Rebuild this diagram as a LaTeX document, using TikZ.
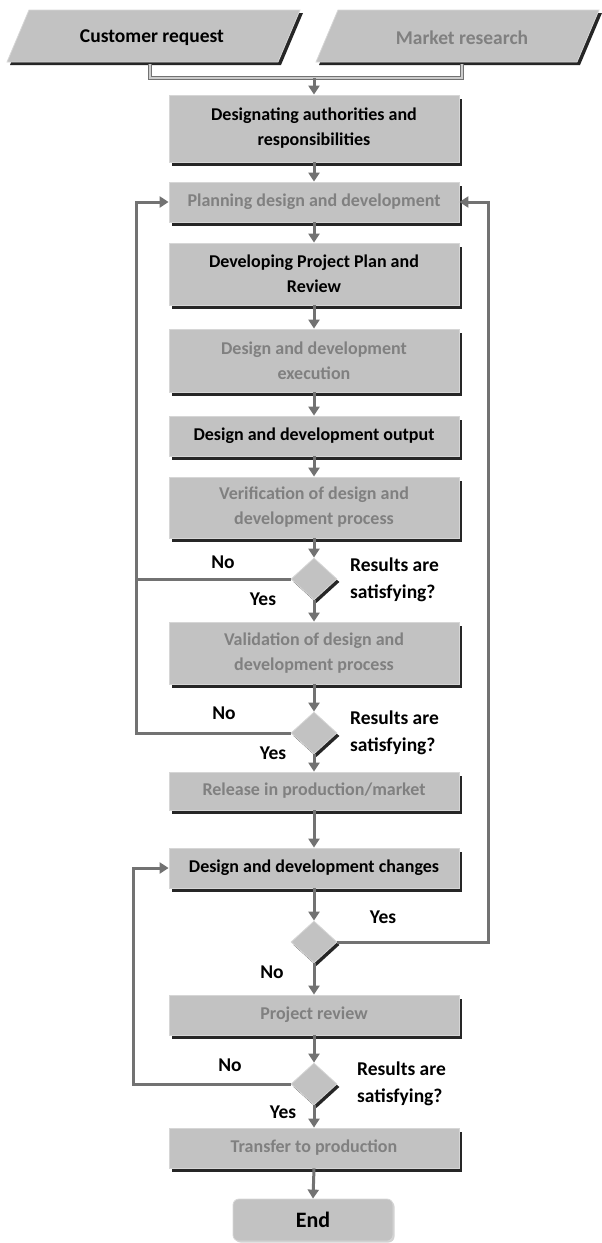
\documentclass[tikz,border=0pt]{standalone}
\usepackage{fontspec}
\setmainfont{Carlito}
\usetikzlibrary{arrows.meta,shapes.geometric,shadows}
\definecolor{boxfill}{HTML}{C2C2C2}
\definecolor{boxline}{HTML}{D6D6D6}
\definecolor{shade}{HTML}{262626}
\definecolor{connc}{HTML}{727272}
\definecolor{blurtxt}{HTML}{808080}
\begin{document}
\begin{tikzpicture}[x=1pt,y=-1pt,
  base/.style={font=\bfseries\fontsize{18}{25}\selectfont},
  big/.style={font=\bfseries\fontsize{19.5}{27}\selectfont},
  proc/.style={base, draw=boxline, line width=0.8pt, fill=boxfill, minimum width=290pt, inner sep=0pt, align=center,
    drop shadow={shadow xshift=3pt, shadow yshift=-4pt, opacity=1, fill=shade}},
  blur/.style={text=blurtxt},
  dec/.style={diamond, draw=boxline, line width=0.8pt, fill=boxfill, minimum width=46pt, minimum height=42pt, inner sep=0pt,
    drop shadow={shadow xshift=2.5pt, shadow yshift=-3pt, opacity=1, fill=shade}},
  parashadow/.style={fill=shade, shift={(3,3)}},
  parabody/.style={draw=boxline, line width=0.8pt, fill=boxfill},
  endbox/.style={font=\bfseries\fontsize{22}{26}\selectfont, rounded corners=6pt, draw=boxline, line width=0.8pt, fill=boxfill,
    minimum width=160pt, minimum height=42pt, inner sep=0pt,
    drop shadow={shadow xshift=1.5pt, shadow yshift=-1.5pt, opacity=0.35, fill=black!50}},
  conn/.style={draw=connc, line width=3pt},
  arr/.style={conn, -{Triangle[width=11pt,length=9pt]}},
  lbl/.style={big, inner sep=0pt},
  qlbl/.style={big, inner sep=0pt, align=left, anchor=west},
]
\useasboundingbox (0,0) rectangle (602,1243);

% input parallelograms
\fill[parashadow] (7,62) -- (278,62) -- (300,10) -- (29,10) -- cycle;
\path[parabody] (7,62) -- (278,62) -- (300,10) -- (29,10) -- cycle;
\fill[parashadow] (316,62) -- (577,62) -- (599,10) -- (338,10) -- cycle;
\path[parabody] (316,62) -- (577,62) -- (599,10) -- (338,10) -- cycle;
\node[big, inner sep=0pt] (cust) at (152,38) {Customer request};
\node[big, inner sep=0pt, blur] (mkt) at (462,38) {Market research};
\coordinate (custb) at (150,64);
\coordinate (mktb) at (462,64);

% process boxes
\node[proc, minimum height=67pt] (b1) at (314,128.5) {Designating authorities and\\responsibilities};
\node[proc, minimum height=40pt, blur] (b2) at (314,202) {Planning design and development};
\node[proc, minimum height=62pt] (b3) at (314,274) {Developing Project Plan and\\Review};
\node[proc, minimum height=63pt, blur] (b4) at (314,360.5) {Design and development\\execution};
\node[proc, minimum height=40pt] (b5) at (314,436) {Design and development output};
\node[proc, minimum height=61pt, blur] (b6) at (314,507.5) {Verification of design and\\development process};
\node[dec] (d1) at (314,579) {};
\node[proc, minimum height=62pt, blur] (b7) at (314,653) {Validation of design and\\development process};
\node[dec] (d2) at (314,733) {};
\node[proc, minimum height=38pt, blur] (b8) at (314,791) {Release in production/market};
\node[proc, minimum height=40pt] (b9) at (314,868) {Design and development changes};
\node[dec] (d3) at (314,942) {};
\node[proc, minimum height=40pt, blur] (b10) at (314,1015) {Project review};
\node[dec] (d4) at (314,1084) {};
\node[proc, minimum height=40pt, blur] (b11) at (314,1148) {Transfer to production};
\node[endbox] (e) at (313,1220) {End};

% top merge connector
\coordinate (j) at (314,78);
\draw[draw=connc, line width=1pt, double=black!20, double distance=2pt]
  (custb) -- (custb |- j) -- (mktb |- j) -- (mktb);
\draw[arr] (j) -- (b1.north);

% main flow
\draw[arr] (b1.south) -- (b2.north);
\draw[arr] (b2.south) -- (b3.north);
\draw[arr] (b3.south) -- (b4.north);
\draw[arr] (b4.south) -- (b5.north);
\draw[arr] (b5.south) -- (b6.north);
\draw[arr] (b6.south) -- (d1.north);
\draw[arr] (d1.south) -- (b7.north);
\draw[arr] (b7.south) -- (d2.north);
\draw[arr] (d2.south) -- (b8.north);
\draw[arr] (b8.south) -- (b9.north);
\draw[arr] (b9.south) -- (d3.north);
\draw[arr] (d3.south) -- (b10.north);
\draw[arr] (b10.south) -- (d4.north);
\draw[arr] (d4.south) -- (b11.north);
\draw[arr] (b11.south) -- (e.north);

% feedback loops
\coordinate (lx) at (136,0);
\coordinate (rx) at (488,0);
\coordinate (lx2) at (133,0);
\draw[conn] (d1.west) -- (d1.west -| lx);
\draw[arr] (d2.west) -- (d2.west -| lx) -- (b2.west -| lx) -- (b2.west);
\draw[arr] (d3.east) -- (d3.east -| rx) -- (b2.east -| rx) -- (b2.east);
\draw[arr] (d4.west) -- (d4.west -| lx2) -- (b9.west -| lx2) -- (b9.west);

% labels
\node[lbl] (n1) at (223,562) {No};
\node[lbl] (y1) at (263,599) {Yes};
\node[qlbl] (q1) at (350,579.5) {Results are\\satisfying?};
\node[lbl] (n2) at (224,713) {No};
\node[lbl] (y2) at (273,753) {Yes};
\node[qlbl] (q2) at (350,732.5) {Results are\\satisfying?};
\node[lbl] (y3) at (383,917) {Yes};
\node[lbl] (n3) at (272,972) {No};
\node[lbl] (n4) at (230,1065) {No};
\node[lbl] (y4) at (283,1112) {Yes};
\node[qlbl] (q4) at (357,1084) {Results are\\satisfying?};
\end{tikzpicture}
\end{document}
